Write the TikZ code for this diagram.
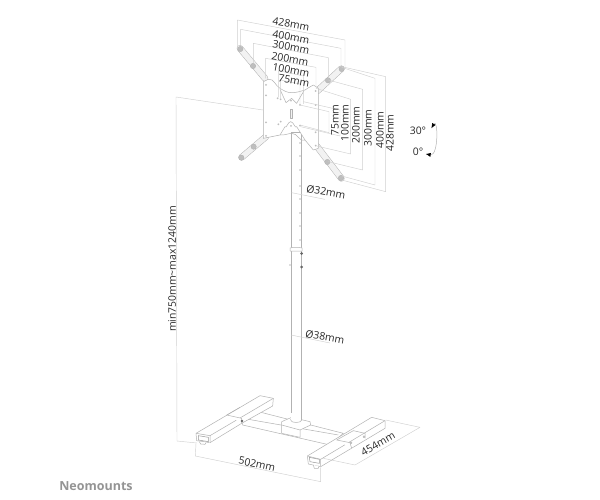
\documentclass[tikz,border=0pt]{standalone}
\usepackage{fontspec}
\setmainfont{Open Sans}
\usetikzlibrary{arrows.meta, positioning}
\definecolor{partline}{HTML}{B2B2B2}
\definecolor{dimline}{HTML}{D0D0D0}
\definecolor{armfill}{HTML}{F2F2F2}
\definecolor{holefill}{HTML}{BEBEBE}
\definecolor{labeltext}{HTML}{262626}
\begin{document}
\begin{tikzpicture}[x=1pt,y=-1pt,line join=round]
  \tikzstyle{part}=[draw=partline,line width=0.5pt,fill=white]
  \tikzstyle{arm}=[draw=partline,line width=0.5pt,double=armfill,double distance=5.5pt,line cap=round]
  \tikzstyle{dim}=[draw=dimline,line width=0.45pt]
  \tikzstyle{hole}=[draw=partline,line width=0.4pt,fill=holefill]
  \tikzstyle{dimlabel}=[text=labeltext,font=\fontsize{10.4}{12}\selectfont,inner sep=0pt]

  \useasboundingbox (0,0) rectangle (600,500);

  % height dimension
  \draw[dim] (263,110) -- (176,97) -- (177,441) -- (197,443);

  % upper pole, lower pole
  \draw[part] (291,132) rectangle (301,250);
  \draw[part] (291,250) rectangle (301.5,422);
  \draw[part] (290,248) -- (290,251) -- (302,251) -- (302,248) to[bend right=12] (290,248);
  \foreach \y in {143,156,170,186,199,213,226,240}
    \fill[holefill] (300,\y) circle (0.8);
  \fill[black!60] (301.5,253.5) circle (1.5);
  \fill[black!60] (301.5,267) circle (1.5);
  \fill[holefill] (290,265) circle (0.8);

  \begin{scope}[shift={(210,10)},scale=1/3]
    % arms
    \draw[arm] (90,115) -- (165,205);
    \draw[arm] (394,176) -- (322,243);
    \draw[arm] (95,442) -- (168,380);
    \draw[arm] (394,505) -- (320,408);
    \foreach \x/\y in {91/117,129/168,395/177,354/211,94/443,131/410,393/504,352/456}
      \draw[hole] (\x,\y) circle (8);

    % plate
    \draw[part] (160,215) -- (175,208) to[out=10,in=150] (210,235) to[out=-30,in=180] (245,248)
      to[out=0,in=195] (285,240) to[out=15,in=190] (310,225) -- (325,235) -- (325,415) -- (310,420)
      -- (285,390) -- (260,350) to[out=-120,in=0] (242,335) to[out=180,in=-60] (225,350)
      -- (210,375) -- (160,385) -- cycle;
    \draw[part,fill=none] (210,238) -- (228,278) -- (245,265) -- (260,280) -- (282,242);
    \draw[part,fill=none] (210,375) to[out=-5,in=185] (245,370) to[out=5,in=-150] (285,390);
    \draw[part,fill=armfill] (240,297) rectangle (247,325);
    \foreach \x/\y in {168/225,168/256,168/337,168/378,243/272,243/348,317/243,317/285,317/367,317/407,
      203/265,212/268,270/285,270/347,212/335,205/343}
      \fill[holefill] (\x,\y) circle (3);

    % top dimensions
    \draw[dim] (82,115) -- (82,30) -- (405,90) -- (405,175);
    \draw[dim] (92,105) -- (92,58) -- (393,115) -- (393,165);
    \draw[dim] (130,160) -- (130,100) -- (355,143) -- (355,205);
    \draw[dim] (167,205) -- (167,145) -- (318,172) -- (318,232);
    \draw[dim] (205,262) -- (205,182) -- (280,198) -- (280,282);
    \draw[dim] (212,265) -- (212,210) -- (270,222) -- (270,282);

    % right dimensions
    \draw[dim] (395,170) -- (527,200) -- (527,545) -- (395,510);
    \draw[dim] (395,172) -- (495,205) -- (495,525) -- (395,498);
    \draw[dim] (355,210) -- (458,238) -- (458,480) -- (355,455);
    \draw[dim] (318,235) -- (422,268) -- (422,432) -- (320,408);
    \draw[dim] (280,275) -- (390,300) -- (390,378) -- (272,350);
    \draw[dim] (270,285) -- (357,305) -- (357,368) -- (270,345);

    % diameter leaders
    \draw[dim] (245,548) -- (345,568);

    % tilt arrow
    \draw[draw=partline,line width=0.5pt,{Latex[black,length=5pt,width=4pt]}-{Latex[black,length=5pt,width=4pt]}]
      (664,355) to[out=60,in=-10,looseness=1.3] (647,432);
  \end{scope}
  \draw[dim] (291,335) -- (330,343);

  \begin{scope}[shift={(160,370)},scale=1/3]
    % crossbar
    \draw[part] (248,145) -- (295,125) -- (550,190) -- (510,225) -- (248,165) -- cycle;
    \draw[part] (248,145) -- (535,195);

    % collar
    \draw[part] (365,155) -- (395,142) -- (450,155) -- (452,165) -- (420,180) -- (420,202) -- (365,190) -- cycle;
    \draw[part] (365,165) -- (420,180);
    \draw[part] (392,150) .. controls (392,160) and (425,160) .. (425,150) -- (425,148) -- (392,148) -- cycle;
    \fill[white] (392.8,130) rectangle (424.2,150);

    % left foot
    \draw[part] (108,190) -- (300,77) -- (340,85) -- (338,108) -- (245,160) -- (150,218) -- (110,212) -- cycle;
    \draw[part] (108,190) -- (150,197) -- (150,218);
    \draw[part] (150,197) -- (340,85);
    \draw[part] (200,135) -- (245,145) -- (245,160);
    \draw[part,fill=none] (200,135) -- (240,112);
    \draw[part] (118,215) -- (122,222) -- (135,223) -- (138,218);
    \draw[draw=black!40,line width=0.5pt,fill=white] (115,197) -- (145,202) -- (145,215) -- (115,210) -- cycle;
    \fill[black!60] (246,153) circle (4);

    % right foot
    \draw[part] (442,258) -- (635,142) -- (675,152) -- (675,175) -- (482,290) -- (445,282) -- cycle;
    \draw[part] (442,258) -- (482,268) -- (482,290);
    \draw[part] (482,268) -- (675,152);
    \draw[part] (530,210) -- (570,218) -- (575,235);
    \draw[part,fill=none] (530,210) -- (580,182) -- (615,190) -- (615,205);
    \draw[part] (612,200) circle (3);
    \draw[part] (573,218) circle (3);
    \draw[part] (460,285) -- (463,295) -- (475,295) -- (477,288);
    \draw[draw=black!40,line width=0.5pt,fill=white] (448,262) -- (478,268) -- (478,280) -- (450,275) -- cycle;

    % base dimensions
    \draw[dim] (108,220) -- (106,258) -- (482,335) -- (482,292);
    \draw[dim] (490,265) -- (585,285) -- (780,172) -- (677,150);
  \end{scope}

  % labels
  \node[dimlabel,rotate=-10] (w428) at (291,24) {428mm};
  \node[dimlabel,rotate=-10] (w400) at (291,37) {400mm};
  \node[dimlabel,rotate=-10] (w300) at (291,47) {300mm};
  \node[dimlabel,rotate=-10] (w200) at (290,59) {200mm};
  \node[dimlabel,rotate=-10] (w100) at (291,70) {100mm};
  \node[dimlabel,rotate=-10] (w75) at (294,81) {75mm};
  \node[dimlabel,rotate=90] (h75) at (335,120) {75mm};
  \node[dimlabel,rotate=90] (h100) at (345,123) {100mm};
  \node[dimlabel,rotate=90] (h200) at (356,125) {200mm};
  \node[dimlabel,rotate=90] (h300) at (368,128) {300mm};
  \node[dimlabel,rotate=90] (h400) at (380,130) {400mm};
  \node[dimlabel,rotate=90] (h428) at (390,133) {428mm};
  \node[dimlabel] (tilt30) at (418,131) {30°};
  \node[dimlabel] (tilt0) at (418,152) {0°};
  \node[dimlabel,rotate=-10] (d32) at (326,192) {Ø32mm};
  \node[dimlabel,rotate=-10] (d38) at (325,337) {Ø38mm};
  \node[dimlabel,rotate=90] (height) at (172,269) {min750mm\textasciitilde max1240mm};
  \node[dimlabel,rotate=-12] (w502) at (257,464) {502mm};
  \node[dimlabel,rotate=30] (d454) at (378,444) {454mm};
  \node[text=black!42,font=\bfseries\fontsize{12.5}{14}\selectfont,inner sep=0pt] (brand) at (96,486) {Neomounts};
\end{tikzpicture}
\end{document}
